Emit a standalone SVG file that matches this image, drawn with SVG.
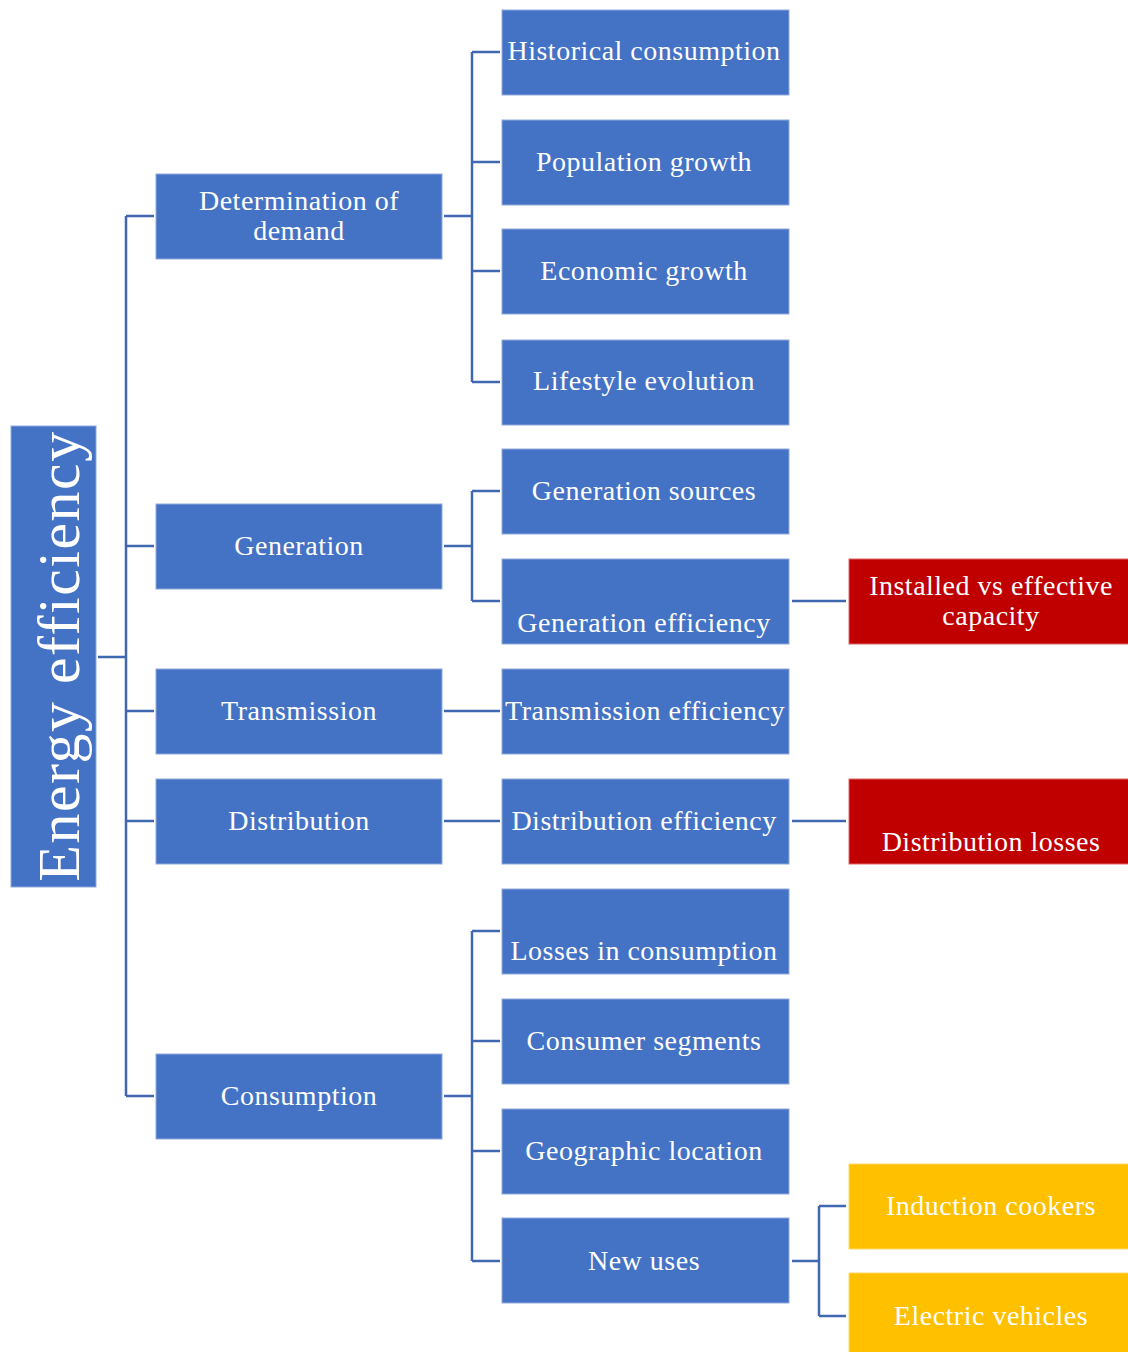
<svg xmlns="http://www.w3.org/2000/svg" width="1128" height="1352" viewBox="0 0 1128 1352">
<style>
.b{fill:#4472C4;stroke:#8FAADC;stroke-width:1}
.r{fill:#C00000;stroke:#E06666;stroke-width:1}
.y{fill:#FFC000;stroke:#FFD966;stroke-width:1}
text{font-family:"Liberation Serif","Times New Roman",serif;fill:#FFFFFF;font-size:28px;letter-spacing:0.5px;text-anchor:middle}
.c{fill:none;stroke:#4068B0;stroke-width:2.5}
</style>
<rect width="1128" height="1352" fill="#FFFFFF"/>
<g id="connectors">
<path class="c" d="M98 657H126M126 216V1096M126 216H154M126 546H154M126 711H154M126 821H154M126 1096H154"/>
<path class="c" d="M444 216H472M472 52V382M472 52H500M472 162H500M472 271H500M472 382H500"/>
<path class="c" d="M444 546H472M472 491V601M472 491H500M472 601H500"/>
<path class="c" d="M444 711H500M444 821H500"/>
<path class="c" d="M444 1096H472M472 931V1261M472 931H500M472 1041H500M472 1151H500M472 1261H500"/>
<path class="c" d="M792 601H846M792 821H846"/>
<path class="c" d="M792 1261H819M819 1206V1316M819 1206H846M819 1316H846"/>
</g>
<g id="root"><rect class="b" x="11" y="426" width="85" height="461"/><text transform="translate(79,656) rotate(-90)" style="font-size:60px;letter-spacing:1.5px">Energy efficiency</text></g>
<g id="demand"><rect class="b" x="156" y="174" width="286" height="85"/><text x="299" y="210">Determination of</text><text x="299" y="240">demand</text></g>
<g id="generation"><rect class="b" x="156" y="504" width="286" height="85"/><text x="299" y="555">Generation</text></g>
<g id="transmission"><rect class="b" x="156" y="669" width="286" height="85"/><text x="299" y="720">Transmission</text></g>
<g id="distribution"><rect class="b" x="156" y="779" width="286" height="85"/><text x="299" y="830">Distribution</text></g>
<g id="consumption"><rect class="b" x="156" y="1054" width="286" height="85"/><text x="299" y="1105">Consumption</text></g>
<g id="historical"><rect class="b" x="502" y="10" width="287" height="85"/><text x="644" y="60">Historical  consumption</text></g>
<g id="population"><rect class="b" x="502" y="120" width="287" height="85"/><text x="644" y="171">Population growth</text></g>
<g id="economic"><rect class="b" x="502" y="229" width="287" height="85"/><text x="644" y="280">Economic growth</text></g>
<g id="lifestyle"><rect class="b" x="502" y="340" width="287" height="85"/><text x="644" y="390">Lifestyle  evolution</text></g>
<g id="gensources"><rect class="b" x="502" y="449" width="287" height="85"/><text x="644" y="500">Generation sources</text></g>
<g id="geneff"><rect class="b" x="502" y="559" width="287" height="85"/><text x="644" y="632">Generation efficiency</text></g>
<g id="transeff"><rect class="b" x="502" y="669" width="287" height="85"/><text x="645" y="720">Transmission efficiency</text></g>
<g id="disteff"><rect class="b" x="502" y="779" width="287" height="85"/><text x="644" y="830">Distribution efficiency</text></g>
<g id="losses"><rect class="b" x="502" y="889" width="287" height="85"/><text x="644" y="960">Losses in consumption</text></g>
<g id="segments"><rect class="b" x="502" y="999" width="287" height="85"/><text x="644" y="1050">Consumer segments</text></g>
<g id="geographic"><rect class="b" x="502" y="1109" width="287" height="85"/><text x="644" y="1160">Geographic location</text></g>
<g id="newuses"><rect class="b" x="502" y="1218" width="287" height="85"/><text x="644" y="1270">New uses</text></g>
<g id="installed"><rect class="r" x="849" y="559" width="280" height="85"/><text x="991" y="595">Installed vs effective</text><text x="991" y="625">capacity</text></g>
<g id="distlosses"><rect class="r" x="849" y="779" width="280" height="85"/><text x="991" y="851">Distribution losses</text></g>
<g id="induction"><rect class="y" x="849" y="1164" width="280" height="85"/><text x="991" y="1215">Induction cookers</text></g>
<g id="ev"><rect class="y" x="849" y="1273" width="280" height="85"/><text x="991" y="1325">Electric  vehicles</text></g>
</svg>
